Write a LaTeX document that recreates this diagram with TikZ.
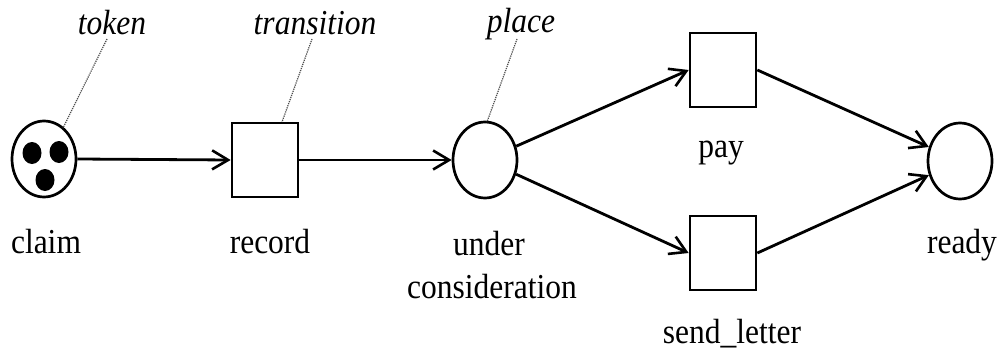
\documentclass[tikz,border=0pt]{standalone}
\usepackage{fontspec}
\setmainfont{Liberation Serif}
\usetikzlibrary{arrows.meta,shapes.geometric}
\newcommand{\sqz}[1]{\scalebox{0.9}[1]{#1}}
\tikzset{
  place/.style={ellipse,draw,line width=2.7pt,minimum width=64pt,minimum height=76pt,inner sep=0pt},
  trans/.style={rectangle,draw,line width=2.7pt,minimum width=66pt,minimum height=74pt,inner sep=0pt},
  arc/.style={line width=2.8pt,-{Straight Barb[length=16pt,width=19pt,line width=2.6pt]}},
  lbl/.style={inner sep=0pt,anchor=base,font=\fontsize{35}{40}\selectfont},
  ilbl/.style={lbl,font=\fontsize{35}{40}\selectfont\itshape},
  leader/.style={densely dotted,line width=1.2pt,black!70},
  tokendot/.style={fill=black,draw=none}
}
\begin{document}
\begin{tikzpicture}[x=1pt,y=-1pt]
\useasboundingbox (0,0) rectangle (1004,353);
% places and transitions
\node[place] (claim) at (44,159) {};
\node[trans] (record) at (265,160) {};
\node[place] (uc) at (485,160) {};
\node[trans] (pay) at (723,70) {};
\node[trans] (send) at (723,253) {};
\node[place] (ready) at (960,161) {};
% tokens
\fill[tokendot] (32,153) ellipse [x radius=9.5pt,y radius=11pt];
\fill[tokendot] (59,152) ellipse [x radius=9.5pt,y radius=11pt];
\fill[tokendot] (45,180) ellipse [x radius=9.5pt,y radius=11pt];
% arcs
\draw[arc] (claim.east) -- (record.west);
\draw[arc] (record.east) -- (uc.west);
\draw[arc] (uc) -- (pay.west);
\draw[arc] (uc) -- (send.west);
\draw[arc] (pay.east) -- (ready);
\draw[arc] (send.east) -- (ready);
% labels
\node[lbl] (lclaim) at (46,253) {\sqz{claim}};
\node[lbl] (lrecord) at (270,253) {\sqz{record}};
\node[lbl] (lunder) at (489,255) {\sqz{under}};
\node[lbl] (lcons) at (492,298) {\sqz{consideration}};
\node[lbl] (lpay) at (721,157) {\sqz{pay}};
\node[lbl] (lsend) at (732,343) {\sqz{send\_letter}};
\node[lbl] (lready) at (962,253) {\sqz{ready}};
% annotations
\node[ilbl] (atoken) at (112,35) {\sqz{token}};
\node[ilbl] (atrans) at (315,35) {\sqz{transition}};
\node[ilbl] (aplace) at (521,33) {\sqz{place}};
\coordinate (ptok0) at (107,39);
\coordinate (ptok1) at (63,128);
\coordinate (ptr0) at (312,39);
\coordinate (ptr1) at (282,122);
\coordinate (ppl0) at (517,39);
\coordinate (ppl1) at (487,122);
\draw[leader] (ptok0) -- (ptok1);
\draw[leader] (ptr0) -- (ptr1);
\draw[leader] (ppl0) -- (ppl1);
\end{tikzpicture}
\end{document}
